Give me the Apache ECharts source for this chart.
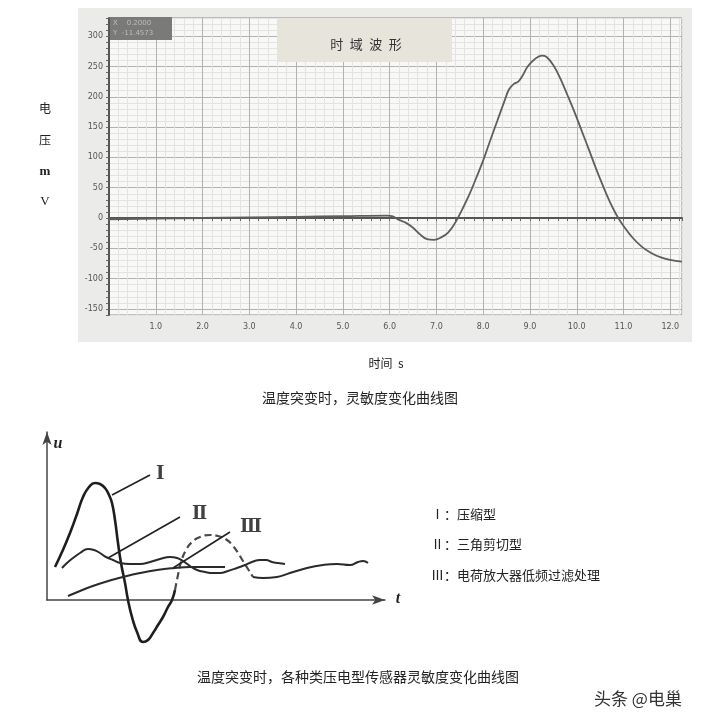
<!DOCTYPE html>
<html><head><meta charset="utf-8">
<script src="https://cdn.jsdelivr.net/npm/echarts@6/dist/echarts.min.js"></script>
<style>html,body{margin:0;padding:0;background:#fff}#c{width:722px;height:725px}</style>
</head><body><div id="c"></div>
<script>
// ---- Top chart: time-domain waveform ----
const timeS = [0.0,1.0,2.0,3.0,4.0,5.0,5.95,6.05,6.2,6.35,6.5,6.65,6.8,6.95,7.1,7.25,7.4,7.55,7.7,7.85,8.0,8.15,8.3,8.45,8.55,8.65,8.75,8.85,8.95,9.1,9.25,9.35,9.5,9.65,9.8,9.95,10.1,10.25,10.4,10.55,10.7,10.85,11.0,11.2,11.4,11.6,11.8,12.0,12.25];
const voltageMV = [-2,-1,0,1,2,3,4,3,-3,-8,-16,-27,-35,-36,-32,-24,-8,14,38,66,95,128,160,192,212,221,225,236,250,262,268,266,252,230,203,175,145,115,84,55,28,5,-13,-33,-48,-58,-65,-69,-72];
const yTickLabels = [300,250,200,150,100,50,0,-50,-100,-150];
const xTickLabels = [1,2,3,4,5,6,7,8,9,10,11,12];

// ---- Bottom schematic (arbitrary units) ----
const c1T = [0.8,1.5,2.3,3.0,3.6,4.2,4.8,5.3,5.8,6.2,6.5,6.8,7.1,7.4,7.8,8.1,8.5,9.0,9.6,10.1,10.6,11.1,11.6,12.1,12.5,12.8];
const c1U = [3.3,4.8,6.7,8.6,10.3,11.3,11.7,11.6,11.2,10.5,9.7,8.0,5.7,3.7,1.7,0,-1.7,-3.2,-4.2,-4.0,-3.3,-2.5,-1.7,-0.7,0,1.0];
const c3DashT = [12.8,13.1,13.4,13.9,14.5,15.3,16.3,17.1,18.0,18.6,19.1,19.6,20.1,20.6];
const c3DashU = [1.0,2.5,3.8,5.0,5.8,6.3,6.5,6.4,6.0,5.4,4.7,3.9,3.1,2.3];
const c3TailT = [20.6,21.6,23.0,24.3,26.0,27.6,29.0,30.3,31.1,31.6,32.1];
const c3TailU = [2.3,2.2,2.3,2.7,3.2,3.5,3.6,3.5,3.8,3.9,3.7];
const c2T = [1.5,2.0,2.6,3.3,4.1,4.7,5.3,5.9,6.6,7.3,8.3,9.3,10.3,11.3,12.3,13.0,13.6,14.3,15.0,15.8,16.6,17.3,18.1,19.0,19.8,20.5,21.3,21.9,22.5,23.1,23.8];
const c2U = [3.2,3.7,4.2,4.7,5.1,5.0,4.7,4.3,4.0,3.7,3.6,3.6,3.8,4.1,4.3,4.2,3.9,3.4,3.0,2.8,2.7,2.7,2.9,3.2,3.5,3.8,4.0,4.0,3.8,3.7,3.6];
const riseT = [2.1,3.3,4.3,5.8,7.6,9.3,11.0,12.8,14.3,16.1,17.8];
const riseU = [0.4,0.9,1.3,1.8,2.3,2.7,3.0,3.2,3.3,3.3,3.3];
const leaderNames = ['Ⅰ','Ⅱ','Ⅲ'];
const leaderFrom = [[6.5,10.5],[6.1,4.2],[12.6,3.2]];
const leaderTo = [[10.3,12.5],[13.3,8.3],[18.3,6.8]];
const leaderLabelPos = [[10.9,12.6],[14.5,8.6],[19.3,7.3]];
const legendTexts = ['Ⅰ：压缩型','Ⅱ：三角剪切型','Ⅲ：电荷放大器低频过滤处理'];

const zip = (a,b) => a.map((v,i)=>[v,b[i]]);
const CJK = '"Noto Sans CJK SC", sans-serif';
const minorC = '#e3e3e1', majorC = '#b2b2b0';

const chart = echarts.init(document.getElementById('c'), null, {renderer:'canvas'});

const leaderSeries = leaderFrom.map((f,i)=>({
  type:'line', xAxisIndex:1, yAxisIndex:1, data:[f, leaderTo[i]], symbol:'none', silent:true,
  lineStyle:{color:'#222', width:1.6}, clip:false, z:3
}));

const graphics = [
  {type:'rect', shape:{x:78,y:8,width:614,height:334}, style:{fill:'#ebebe9'}, z:-10, silent:true},
  {type:'rect', shape:{x:278,y:18,width:174,height:44}, style:{fill:'#e7e4db'}, z:10},
  {type:'text', x:366, y:44, z:11, style:{text:'时\u2002域\u2002波\u2002形', fill:'#333', font:'13px '+CJK, textAlign:'center', textVerticalAlign:'middle'}},
  {type:'rect', shape:{x:110,y:17,width:62,height:23}, style:{fill:'#7a7a78'}, z:10},
  {type:'text', x:113, y:23, z:11, style:{text:'X    0.2000', fill:'#bdbdbb', font:'7px "DejaVu Sans"', textVerticalAlign:'middle'}},
  {type:'text', x:113, y:33, z:11, style:{text:'Y  -11.4573', fill:'#bdbdbb', font:'7px "DejaVu Sans"', textVerticalAlign:'middle'}},
  {type:'text', x:45, y:108, style:{text:'电', fill:'#222', font:'12px '+CJK, textAlign:'center', textVerticalAlign:'middle'}},
  {type:'text', x:45, y:140, style:{text:'压', fill:'#222', font:'12px '+CJK, textAlign:'center', textVerticalAlign:'middle'}},
  {type:'text', x:45, y:172, style:{text:'m', fill:'#222', font:'bold 13px "Liberation Serif"', textAlign:'center', textVerticalAlign:'middle'}},
  {type:'text', x:45, y:202, style:{text:'V', fill:'#222', font:'13px "Liberation Serif"', textAlign:'center', textVerticalAlign:'middle'}},
  {type:'text', x:386, y:363, style:{text:'时间  s', fill:'#222', font:'12px '+CJK, textAlign:'center', textVerticalAlign:'middle'}},
  {type:'text', x:360, y:398, style:{text:'温度突变时，灵敏度变化曲线图', fill:'#222', font:'14px '+CJK, textAlign:'center', textVerticalAlign:'middle'}},
  {type:'text', x:58, y:444, style:{text:'u', fill:'#222', font:'italic bold 16px "Liberation Serif"', textAlign:'center', textVerticalAlign:'middle'}},
  {type:'text', x:398, y:599, style:{text:'t', fill:'#222', font:'italic bold 16px "Liberation Serif"', textAlign:'center', textVerticalAlign:'middle'}},
  {type:'text', x:358, y:677, style:{text:'温度突变时，各种类压电型传感器灵敏度变化曲线图', fill:'#222', font:'14px '+CJK, textAlign:'center', textVerticalAlign:'middle'}},
  {type:'text', x:638, y:699, style:{text:'头条 @电巢', fill:'#333', font:'17px '+CJK, textAlign:'center', textVerticalAlign:'middle'}}
];
legendTexts.forEach((t,i)=>graphics.push({type:'text', x:431, y:514+i*30.5,
  style:{text:t, fill:'#222', font:'13px '+CJK, textVerticalAlign:'middle'}}));

chart.setOption({
  animation:false,
  backgroundColor:'#ffffff',
  grid:[
    {left:109, right:40, top:18, height:297, show:true, backgroundColor:'#f8f8f6', borderColor:'#8a8a8a', borderWidth:1},
    {left:47, right:337, top:432, bottom:125}
  ],
  xAxis:[
    {type:'value', gridIndex:0, min:0, max:12.25, interval:0.2,
      axisLine:{lineStyle:{color:'#555', width:2}},
      axisTick:{show:true, length:3, lineStyle:{color:'#666'}},
      axisLabel:{color:'#555', fontSize:8, margin:8, fontFamily:'DejaVu Sans',
        formatter:v=>{const r=Math.round(v); return (Math.abs(v-r)<1e-6 && xTickLabels.indexOf(r)>=0)? r.toFixed(1):'';}},
      splitLine:{show:true, lineStyle:{color:[majorC,minorC,minorC,minorC,minorC], width:1}}},
    {type:'value', gridIndex:1, min:0, max:33.8,
      axisLine:{show:true, symbol:['none','arrow'], symbolSize:[7,13], lineStyle:{color:'#444', width:1.5}},
      axisTick:{show:false}, axisLabel:{show:false}, splitLine:{show:false}}
  ],
  yAxis:[
    {type:'value', gridIndex:0, min:-160, max:330, interval:10,
      axisLine:{show:true, lineStyle:{color:'#555', width:2}},
      axisTick:{show:true, length:3, lineStyle:{color:'#666'}},
      axisLabel:{color:'#555', fontSize:8, margin:6, fontFamily:'DejaVu Sans',
        formatter:v=>yTickLabels.indexOf(Math.round(v))>=0 && Math.abs(v-Math.round(v))<1e-6 ? String(Math.round(v)) : ''},
      splitLine:{show:true, lineStyle:{color:[minorC,majorC,minorC,minorC,minorC], width:1}}},
    {type:'value', gridIndex:1, min:0, max:16.8,
      axisLine:{show:true, symbol:['none','arrow'], symbolSize:[7,13], lineStyle:{color:'#444', width:1.5}},
      axisTick:{show:false}, axisLabel:{show:false}, splitLine:{show:false}}
  ],
  series:[
    {type:'line', xAxisIndex:0, yAxisIndex:0, data:zip(timeS, voltageMV), smooth:0.4, symbol:'none',
      lineStyle:{color:'#5e5e5c', width:1.8}, z:5},
    {type:'line', xAxisIndex:1, yAxisIndex:1, data:zip(c1T,c1U), smooth:0.5, symbol:'none', clip:false,
      lineStyle:{color:'#1e1e1e', width:2.6}},
    {type:'line', xAxisIndex:1, yAxisIndex:1, data:zip(c3DashT,c3DashU), smooth:0.5, symbol:'none', clip:false,
      lineStyle:{color:'#4a4a4a', width:2.2, type:[7,4]}},
    {type:'line', xAxisIndex:1, yAxisIndex:1, data:zip(c3TailT,c3TailU), smooth:0.5, symbol:'none', clip:false,
      lineStyle:{color:'#2a2a2a', width:2}},
    {type:'line', xAxisIndex:1, yAxisIndex:1, data:zip(c2T,c2U), smooth:0.5, symbol:'none', clip:false,
      lineStyle:{color:'#2a2a2a', width:2}},
    {type:'line', xAxisIndex:1, yAxisIndex:1, data:zip(riseT,riseU), smooth:0.5, symbol:'none', clip:false,
      lineStyle:{color:'#2a2a2a', width:2}},
    ...leaderSeries,
    {type:'scatter', xAxisIndex:1, yAxisIndex:1, symbolSize:0, silent:true,
      data:leaderLabelPos.map((p,i)=>[p[0],p[1],leaderNames[i]]),
      label:{show:true, position:'right', distance:0, formatter:p=>p.data[2], color:'#111', fontWeight:'bold',
        fontSize:18, fontFamily:'"DejaVu Serif", "Liberation Serif", serif'}}
  ],
  graphic:graphics
});
</script></body></html>
